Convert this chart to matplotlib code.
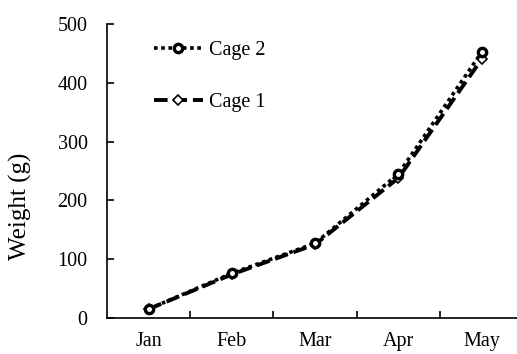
import matplotlib.pyplot as plt

plt.rcParams['font.family'] = ['Liberation Serif', 'DejaVu Serif']

months = ['Jan', 'Feb', 'Mar', 'Apr', 'May']
cage1 = [15, 74, 125, 238, 440]
cage2 = [15, 76, 127, 245, 452]

fig = plt.figure(figsize=(5.17, 3.54), dpi=100)
ax = fig.add_axes([0.207, 0.102, 0.805, 0.830])

x = range(len(months))
# Cage 2: dotted line, round markers; Cage 1: dashed line, open diamonds
ax.plot(x, cage2, linestyle=(0, (1, 1)), color='black', linewidth=2.6,
        marker='o', markersize=6, markerfacecolor='white', markeredgewidth=2.4,
        markeredgecolor='black', label='Cage 2', zorder=3)
ax.plot(x, cage1, linestyle=(0, (3.5, 1.5)), color='black', linewidth=2.8,
        marker='D', markersize=5.5, markerfacecolor='white', markeredgewidth=1.2,
        markeredgecolor='black', label='Cage 1', zorder=2)

ax.set_xlim(-0.5, 4.5)
ax.set_ylim(0, 500)
ax.set_yticks([0, 100, 200, 300, 400, 500])
ax.set_xticks(list(x))
ax.set_xticklabels(months)
ax.set_xticks([0.5, 1.5, 2.5, 3.5], minor=True)
ax.tick_params(axis='x', which='major', length=0, pad=10.5, labelsize=14.5)
ax.tick_params(axis='x', which='minor', direction='in', length=5, width=1.2)
ax.tick_params(axis='y', direction='in', length=5, width=1.2, labelsize=14.5, pad=14)
ax.set_ylabel('Weight (g)', fontsize=18)
ax.yaxis.set_label_coords(-0.18, 0.38)

ax.spines['top'].set_visible(False)
ax.spines['right'].set_visible(False)
ax.spines['left'].set_linewidth(1.2)
ax.spines['bottom'].set_linewidth(1.2)

ax.legend(loc='upper left', bbox_to_anchor=(0.07, 1.005), frameon=False, fontsize=14.5,
          handlelength=2.4, labelspacing=1.65, handletextpad=0.3)

fig.savefig('out.png', dpi=100)
